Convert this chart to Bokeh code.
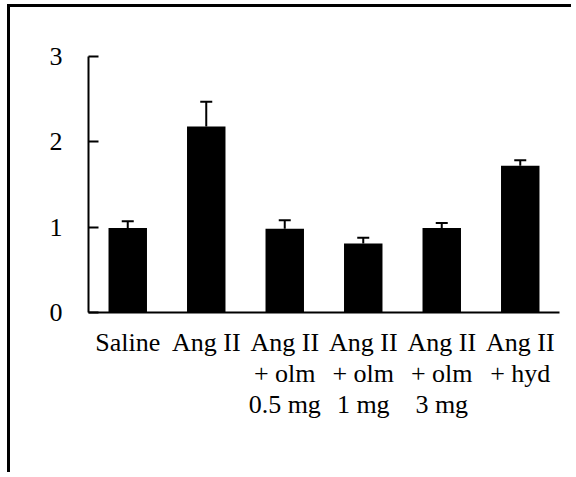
from bokeh.plotting import figure
from bokeh.models import (ColumnDataSource, Range1d, FactorRange, Whisker, TeeHead,
                          FixedTicker)
from bokeh.embed import file_html
from bokeh.resources import INLINE

categories = ["Saline", "Ang II", "Ang II\n+ olm\n0.5 mg", "Ang II\n+ olm\n1 mg", "Ang II\n+ olm\n3 mg", "Ang II\n+ hyd"]
values = [0.99, 2.18, 0.98, 0.81, 0.99, 1.72]
errors = [0.08, 0.29, 0.10, 0.065, 0.06, 0.065]
y_ticks = [0, 1, 2, 3]

# pad every label to three lines so all label blocks share the same top
n_lines = max(c.count("\n") + 1 for c in categories)
factors = [c + "\n " * (n_lines - 1 - c.count("\n")) for c in categories]

src = ColumnDataSource(dict(
    cat=factors,
    val=values,
    hi=[v + e for v, e in zip(values, errors)],
))

B = 3
OX, OY = 7 + B, 4 + B
W = 564
H = 468
left = 88 - OX
top = 56 - OY
right = 559 - OX
bottom = 312 - OY

p = figure(x_range=FactorRange(*factors, range_padding=0), y_range=Range1d(0, 3),
           width=W, height=H, output_backend="svg", toolbar_location=None,
           min_border_left=left, min_border_top=top,
           min_border_right=W - right, min_border_bottom=H - bottom)
p.styles = {"margin-left": "7px", "margin-top": "4px",
            "border-left": f"{B}px solid black", "border-top": f"{B}px solid black"}

p.vbar(x="cat", top="val", width=0.49, source=src, fill_color="black", line_color=None)
p.add_layout(Whisker(source=src, base="cat", lower="val", upper="hi",
                     line_width=2, line_color="black",
                     lower_head=None,
                     upper_head=TeeHead(size=12, line_width=2, line_color="black")))

p.outline_line_color = None
p.grid.visible = False
p.x_range.factor_padding = 0

font = "Liberation Serif"
for ax in (p.xaxis[0], p.yaxis[0]):
    ax.axis_line_color = "black"
    ax.axis_line_width = 2
    ax.major_label_text_font = font
    ax.major_label_text_font_size = "26px"
    ax.major_label_text_color = "black"
    ax.minor_tick_line_color = None

p.xaxis.major_tick_line_color = None
p.xaxis.major_tick_in = 0
p.xaxis.major_tick_out = 0
p.xaxis.major_label_standoff = 15
p.xaxis.major_label_orientation = "horizontal"
p.xaxis.major_label_text_align = "center"
p.xaxis.major_label_text_line_height = 1.08

p.yaxis.ticker = FixedTicker(ticks=y_ticks)
p.yaxis.major_tick_in = 10
p.yaxis.major_tick_out = 0
p.yaxis.major_tick_line_width = 2
p.yaxis.major_tick_line_color = "black"
p.yaxis.major_label_standoff = 26

open("out.html", "w").write(file_html(p, INLINE))
